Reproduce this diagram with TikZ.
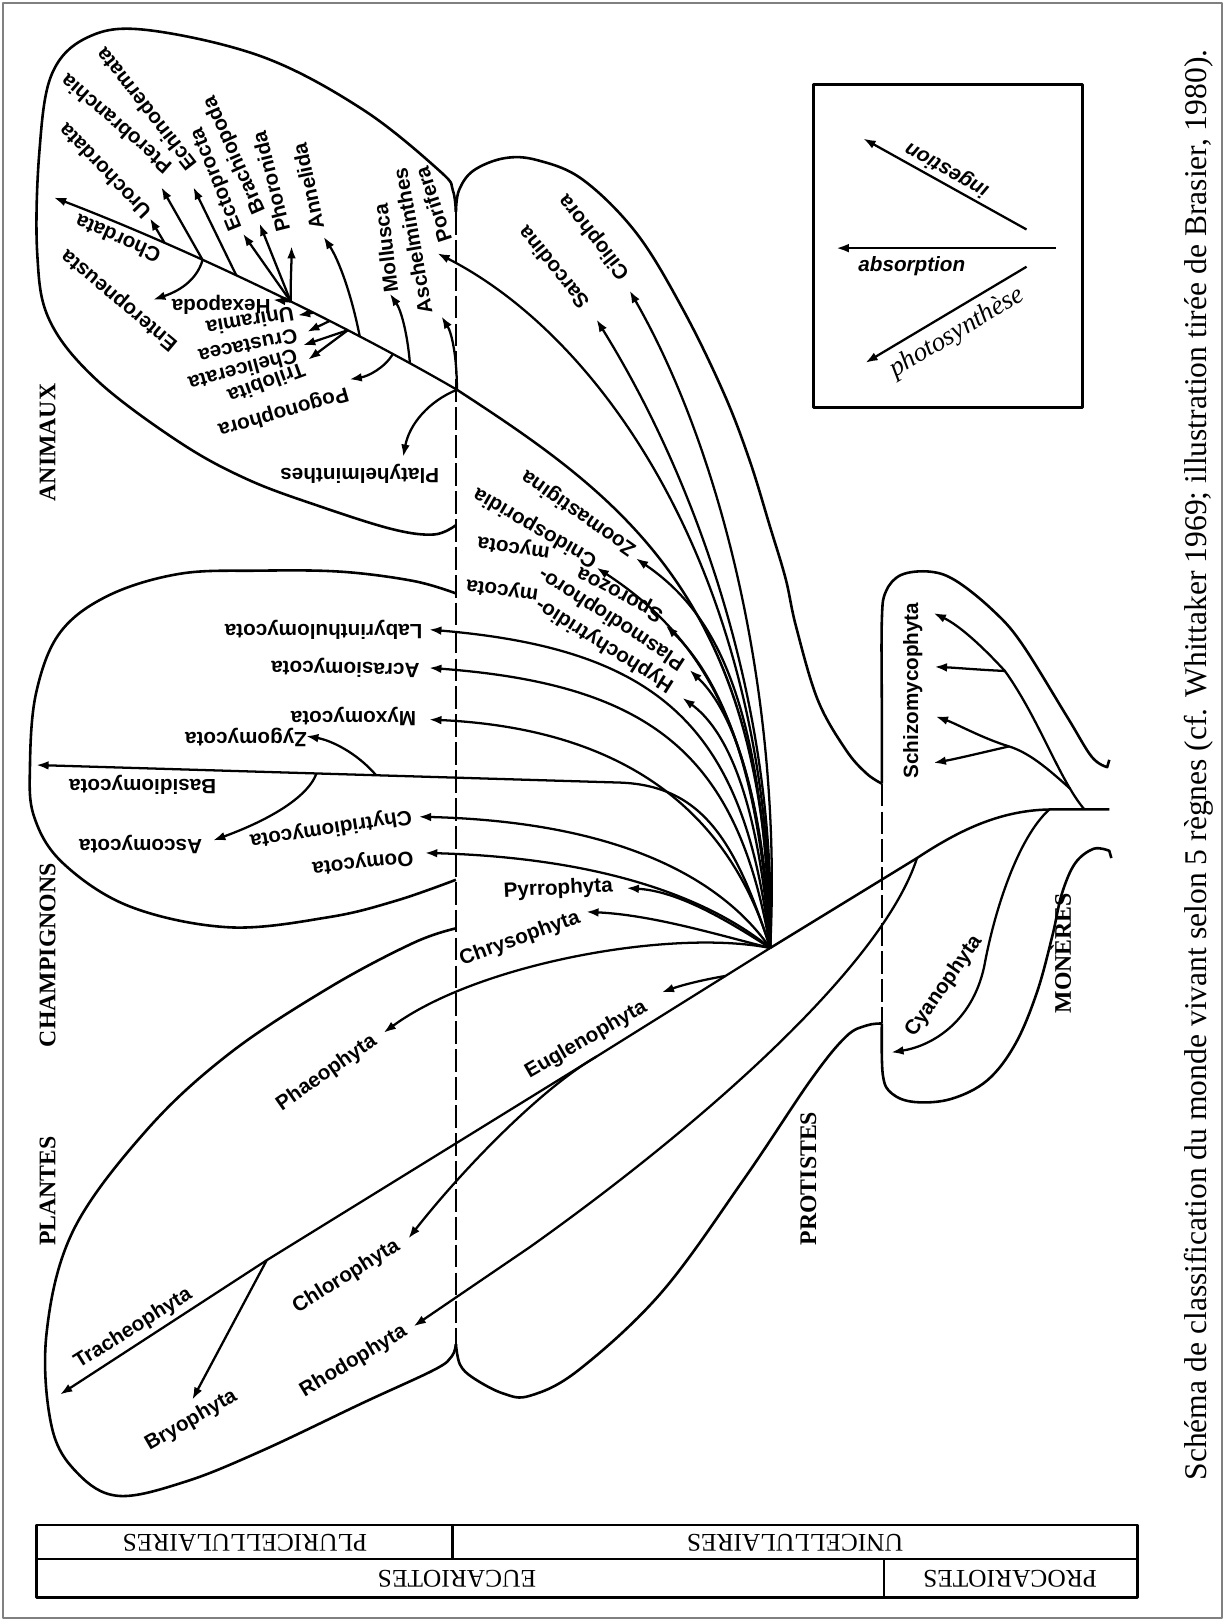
\documentclass[tikz,border=0pt]{standalone}
\usepackage{graphicx}
\usepackage{fontspec}
\setmainfont{Liberation Serif}
\setsansfont{Liberation Sans}
\usetikzlibrary{arrows.meta}

\begin{document}
\begin{tikzpicture}[x=0.5pt,y=-0.5pt,line width=1.2pt,line join=round,
  lobe/.style={line width=1.25pt},
  arr/.style={line width=1.1pt,-{Latex[length=6pt,width=4.2pt]}},
  sep/.style={line width=1.2pt,dash pattern=on 11pt off 2.5pt},
  taxon/.style={font=\sffamily\bfseries\fontsize{10}{11}\selectfont,inner sep=0pt},
  mode/.style={font=\sffamily\bfseries\itshape\fontsize{10}{11}\selectfont,inner sep=0pt},
  kingdom/.style={font=\bfseries\fontsize{11.5}{13}\selectfont,inner sep=0pt,rotate=90},
  cell/.style={font=\fontsize{12.3}{14}\selectfont,inner sep=0pt,rotate=180}]
  \useasboundingbox (0,0) rectangle (1185,1568);
  \draw[gray,line width=.8pt] (3,3) rectangle (1182,1565);

  \draw[lobe] plot[smooth,tension=.6] coordinates {(441,205) (438,184) (426,166) (351,106) (254,55) (142,29) (85,36) (50,72) (38,148) (36,245) (48,310) (94,368) (174,428) (240,464) (310,490) (380,512) (420,517) (441,508)};
  \draw[lobe] plot[smooth,tension=.6] coordinates {(441,574) (400,562) (330,553) (250,552) (174,555) (105,576) (58,612) (35,670) (29,740) (33,790) (61,835) (126,877) (222,897) (319,887) (384,871) (441,851)};
  \draw[lobe] plot[smooth,tension=.6] coordinates {(441,898) (400,912) (319,955) (222,1019) (142,1093) (71,1190) (45,1290) (50,1380) (75,1425) (115,1447) (180,1433) (254,1403) (351,1357) (420,1325) (437,1312) (441,1300)};
  \draw[lobe] plot[smooth,tension=.6] coordinates {(441,205) (444,184) (458,165) (488,153) (520,155) (564,174) (616,226) (661,300) (700,380) (725,445) (745,510) (760,560) (770,606) (791,677) (818,725) (838,748) (853,758)};
  \draw[lobe] plot[smooth,tension=.6] coordinates {(441,1300) (445,1320) (458,1333) (487,1348) (513,1350) (560,1325) (640,1250) (720,1140) (784,1045) (818,1003) (838,992) (853,990)};
  \draw[lobe] plot[smooth,tension=.6] coordinates {(853,758) (853,690) (853,600) (857,572) (872,556) (900,553) (925,562) (960,590) (988,622) (1032,693) (1056,732) (1071,742)} -- ++(2,-7);
  \draw[lobe] (1075,830) -- plot[smooth,tension=.6] coordinates {(1073,823) (1058,821) (1040,835) (1027,865) (1018,905) (1003,960) (982,1010) (955,1045) (920,1063) (885,1066) (863,1058) (854,1040) (853,990)};
  \draw[sep] (441,205) -- (441,1300);
  \draw[sep] (853,758) -- (853,990);

  \coordinate (R) at (1073,783);
  \coordinate (Tc) at (1015,783);
  \coordinate (Tr) at (887,830);
  \coordinate (F) at (745,917);
  \coordinate (Eu) at (702,944);
  \coordinate (S) at (577,1022);
  \coordinate (Br) at (258,1219);
  \coordinate (N0) at (442,377);
  \foreach \nm/\x/\y in {cil/609/281,sar/577/309,por/423/245,zoo/615/540,cni/577/549,spo/644/605,plm/667/648,hyp/660/675,
    lab/415/609,acr/415/646,myx/415/696,chy/405/790,oom/411/825,pyr/606/859,chr/567/882,pha/371/999,bas/35/740,
    plh/390/442,asc/427/306,mol/377/284,pog/338/367,ann/313/229,che/293/334,tri/298/348,cru/297/321,uni/288/305,
    hex/264/290,pho/282/238,bra/251/216,ect/235/226,ech/187/181,pte/156/181,ent/148/290,uro/145/211,cho/52/191,
    zyg/296/712,asm/206/813,tra/58/1349,bry/186/1354,chl/395/1198,rho/400/1283,eug/640/960,cya/862/1018,
    s1/903/593,s2/904/645,s3/905/693,s4/903/738}
    \coordinate (t\nm) at (\x,\y);

  \draw (R) -- (Tc) .. controls (965,784) and (925,805) .. (Tr) -- (F);
  \draw[arr] (F) -- (S) -- (Br) -- (ttra);
  \draw[arr] (Eu) .. controls (684,947) and (662,952) .. (teug);
  \draw[arr] (S) .. controls (525,1052) and (450,1128) .. (tchl);
  \draw[arr] (Br) -- (tbry);
  \draw[arr] (Tr) .. controls (855,930) and (690,1080) .. (513,1206) -- (trho);
  \draw[arr] (Tc) .. controls (985,810) and (962,880) .. (952,935) .. controls (940,990) and (900,1012) .. (tcya);
  \draw[arr] (1049,783) .. controls (1025,755) and (1005,695) .. (972,649) coordinate[pos=.2] (Sb) coordinate (Sn1)
    .. controls (950,625) and (928,605) .. (ts1);
  \draw[arr] (Sn1) .. controls (948,648) and (926,646) .. (ts2);
  \draw[arr] (Sb) .. controls (1012,742) and (995,728) .. (976,722) coordinate (Sn2) .. controls (950,714) and (925,700) .. (ts3);
  \draw[arr] (Sn2) .. controls (950,728) and (925,734) .. (ts4);

  \foreach \nm/\ax/\ay/\bx/\by in {cil/757/680/700/440,sar/752/680/672/462,por/748/570/590/330,
    zoo/739/670/688/590,cni/737/690/664/606,spo/735/730/690/650,plm/737/755/705/684,hyp/733/765/700/704,
    lab/721/705/640/628,acr/714/730/630/662,myx/707/790/610/705,chy/698/850/600/795,oom/690/872/590/830,
    pyr/700/888/655/862,chr/690/903/630/885,pha/650/898/462/932}
    \draw[arr] (F) .. controls (\ax,\ay) and (\bx,\by) .. (t\nm);
  \draw[arr] (F) .. controls (712,815) and (680,760) .. (600,757) -- (tbas) coordinate[pos=.418] (nZyg) coordinate[pos=.52] (nAsm);
  \draw[arr] (nZyg) .. controls (345,728) and (320,716) .. (tzyg);
  \draw[arr] (nAsm) .. controls (296,775) and (250,797) .. (tasm);

  \draw (F) .. controls (743,580) and (600,480) .. (N0);
  \draw[arr] (N0) .. controls (330,312) and (180,240) .. (tcho) coordinate[pos=.13] (nMol) coordinate[pos=.175] (nPog)
    coordinate[pos=.26] (nAnn) coordinate[pos=.29] (nChe) coordinate[pos=.335] (nCru) coordinate[pos=.375] (nUni)
    coordinate[pos=.43] (nHex) coordinate[pos=.56] (nEch) coordinate[pos=.64] (nPE) coordinate[pos=.73] (nUro);
  \draw[arr] (N0) .. controls (415,388) and (396,410) .. (tplh);
  \draw[arr] (N0) .. controls (442,345) and (437,322) .. (tasc);
  \draw[arr] (nMol) .. controls (394,322) and (388,300) .. (tmol);
  \draw[arr] (nPog) .. controls (372,356) and (356,364) .. (tpog);
  \draw[arr] (nAnn) .. controls (340,285) and (328,252) .. (tann);
  \draw[arr] (nHex) .. controls (281,270) and (282,255) .. (tpho);
  \draw[arr] (nPE) .. controls (190,272) and (172,282) .. (tent);
  \foreach \a/\b in {nChe/tche,nChe/ttri,nCru/tcru,nUni/tuni,nHex/thex,nHex/tbra,nHex/tect,nEch/tech,nPE/tpte,nUro/turo}
    \draw[arr] (\a) -- (\b);

  \foreach \nm/\x/\y/\ang/\txt in {cil/575/229/128/Ciliophora,sar/535/259/129/Sarcodina,
    zoo/560/496/145/Zoomastigina,cni/518/510/150/Cnidosporidia,spo/600/574/152/Sporozoa,my1/497/529/172/mycota,
    plm/592/598/147/Plasmodiophoro-,my2/486/570/172/mycota,hyp/585/624/148/Hyphochytridio-,
    lab/313/609/180/Labyrinthulomycota,acr/334/646/179/Acrasiomycota,myx/342/693/180/Myxomycota,
    zyg/238/713/180/Zygomycota,bas/138/759/180/Basidiomycota,asm/136/817/180/Ascomycota,
    chy/320/801/189/Chytridiomycota,oom/351/834/186/Oomycota,pyr/540/860/3/Pyrrophyta,chr/503/908/20/Chrysophyta,
    pha/316/1038/35/Phaeophyta,eug/567/1006/30/Euglenophyta,chl/335/1235/32/Chlorophyta,rho/342/1317/31/Rhodophyta,
    tra/129/1285/32/Tracheophyta,bry/185/1374/30/Bryophyta,cya/913/954/55/Cyanophyta,sch/883/668/90/Schizomycophyta,
    por/419/198/108/Porifera,asc/399/233/100/Aschelminthes,mol/373/240/97/Mollusca,ann/298/180/102/Annelida,
    pho/262/176/104/Phoronida,bra/227/150/114/Brachiopoda,ect/210/173/112/Ectoprocta,ech/141/106/128/Echinodermata,
    pte/112/120/139/Pterobranchia,uro/101/166/134/Urochordata,cho/114/231/156/Chordata,ent/116/290/140/Enteropneusta,
    hex/214/295/180/Hexapoda,uni/242/311/190/Uniramia,cru/240/335/192/Crustacea,che/235/358/195/Chelicerata,
    tri/258/371/200/Trilobita,pog/274/398/196/Pogonophora,plh/348/458/180/Platyhelminthes}
    \node[taxon,rotate=\ang] (l\nm) at (\x,\y) {\txt};

  \draw[line width=1.3pt] (787,82) rectangle (1047,394);
  \coordinate (ig0) at (993,222); \coordinate (ig1) at (835,134);
  \coordinate (ab0) at (1021,240); \coordinate (ab1) at (809,240);
  \coordinate (ph0) at (993,258); \coordinate (ph1) at (837,351);
  \draw[arr] (ig0) -- (ig1);
  \draw[arr] (ab0) -- (ab1);
  \draw[arr] (ph0) -- (ph1);
  \node[mode,rotate=151] (ling) at (916,164) {ingestion};
  \node[mode] (labs) at (882,257) {absorption};
  \node[font=\itshape\fontsize{13}{15}\selectfont,inner sep=0pt,rotate=31] (lphs) at (926,322) {photosynthèse};

  \node[kingdom] (kani) at (46,428) {ANIMAUX};
  \node[kingdom] (kcha) at (46,924) {CHAMPIGNONS};
  \node[kingdom] (kpla) at (46,1152) {PLANTES};
  \node[kingdom] (kpro) at (782,1140) {PROTISTES};
  \node[kingdom] (kmon) at (1026,922) {MONÈRES};

  \draw[line width=1.3pt] (35,1475) rectangle (1100,1545) (35,1508) -- (1100,1508) (438,1475) -- (438,1508) (855,1508) -- (855,1545);
  \node[cell] (cplu) at (237,1492) {PLURICELLULAIRES};
  \node[cell] (cuni) at (769,1492) {UNICELLULAIRES};
  \node[cell] (ceuc) at (442,1527) {EUCARIOTES};
  \node[cell] (cpro) at (977,1527) {PROCARIOTES};

  \node[rotate=90,inner sep=0pt] (cap) at (1160,740) {\resizebox{692pt}{!}{Schéma de classification du monde vivant selon 5 règnes (cf. Whittaker 1969; illustration tirée de Brasier, 1980).}};
\end{tikzpicture}
\end{document}
